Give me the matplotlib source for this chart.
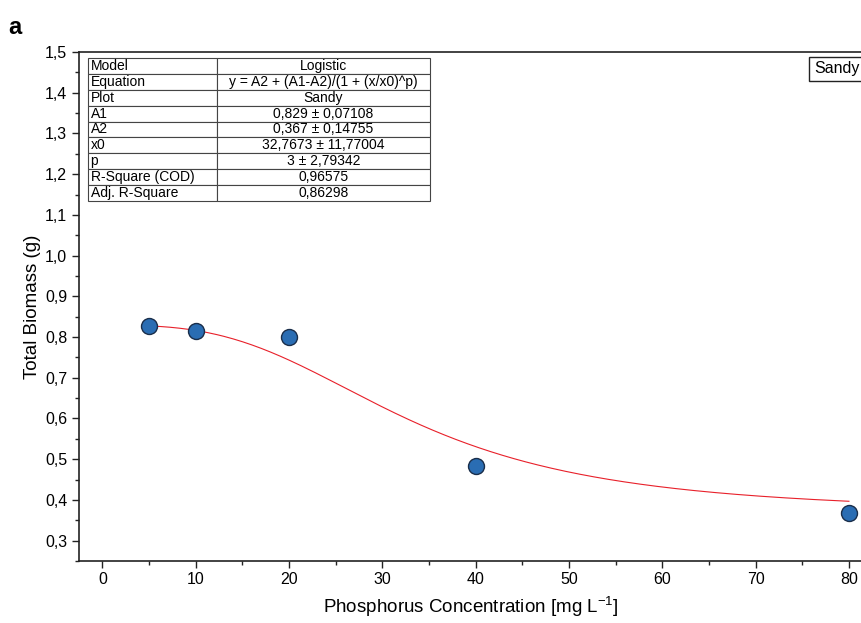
import numpy as np
import matplotlib.pyplot as plt
from matplotlib.ticker import MultipleLocator, FuncFormatter

plt.rcParams['font.family'] = ['Liberation Sans', 'DejaVu Sans']

# measured points (Sandy)
conc = [5, 10, 20, 40, 80]
biomass = [0.828, 0.815, 0.801, 0.483, 0.367]

# logistic fit parameters, as printed in the table
A1 = 0.829
A2 = 0.367
x0 = 32.7673
p = 3

tbl_keys = ['Model', 'Equation', 'Plot', 'A1', 'A2', 'x0', 'p',
            'R-Square (COD)', 'Adj. R-Square']
tbl_vals = ['Logistic', 'y = A2 + (A1-A2)/(1 + (x/x0)^p)', 'Sandy',
            '0,829 \u00b1 0,07108', '0,367 \u00b1 0,14755',
            '32,7673 \u00b1 11,77004', '3 \u00b1 2,79342', '0,96575', '0,86298']

W, H = 862, 623
fig = plt.figure(figsize=(W / 100, H / 100), dpi=100)
ax = fig.add_axes([79 / W, (H - 561) / H, 1 - 79 / W, (561 - 52) / H])

xf = np.linspace(5, 80, 300)
yf = A2 + (A1 - A2) / (1 + (xf / x0) ** p)
ax.plot(xf, yf, color='#e8202a', lw=0.8, zorder=2)
ax.plot(conc, biomass, 'o', ms=11.5, mfc='#2a6db3', mec='#1a2e4a', mew=1.0,
        zorder=3, clip_on=False)

ax.set_xlim(-2.5, 81.4)
ax.set_ylim(0.25, 1.5)
ax.xaxis.set_major_locator(MultipleLocator(10))
ax.xaxis.set_minor_locator(MultipleLocator(5))
ax.yaxis.set_major_locator(MultipleLocator(0.1))
ax.yaxis.set_minor_locator(MultipleLocator(0.05))
ax.yaxis.set_major_formatter(FuncFormatter(lambda v, _: f'{v:.1f}'.replace('.', ',')))
ax.tick_params(which='both', direction='out', width=1.0, labelsize=11.5, color='#222222')
ax.tick_params(which='major', length=5)
ax.tick_params(which='minor', length=3)
ax.tick_params(axis='x', pad=3)
for s in ['left', 'bottom', 'top']:
    ax.spines[s].set_linewidth(1.2)
    ax.spines[s].set_color('#222222')
ax.spines['right'].set_visible(False)

ax.set_xlabel('Phosphorus Concentration [mg L$^{\\mathregular{-1}}$]', fontsize=13.5, labelpad=5)
ax.set_ylabel('Total Biomass (g)', fontsize=13.5, labelpad=3)

tb = ax.table(cellText=list(zip(tbl_keys, tbl_vals)),
              bbox=[9 / 783, 360 / 509, 342 / 783, 143 / 509],
              colWidths=[129, 213], cellLoc='center', edges='closed')
tb.auto_set_font_size(False)
for (r, c), cell in tb.get_celld().items():
    cell.set_edgecolor('#444444')
    cell.set_linewidth(0.8)
    cell.set_facecolor('white')
    cell.get_text().set_fontsize(10)
    cell.PAD = 0.02
    if c == 0:
        cell._loc = 'left'
        cell.get_text().set_ha('left')

fig.text(814 / W, 1 - 69 / H, 'Sandy', fontsize=11.5, va='center', ha='left',
         bbox=dict(boxstyle='square,pad=0.3', fc='white', ec='#222222', lw=1.0))

fig.text(8 / W, 1 - 28 / H, 'a', fontsize=17, fontweight='bold', va='center')

fig.savefig('out.png', dpi=100)
